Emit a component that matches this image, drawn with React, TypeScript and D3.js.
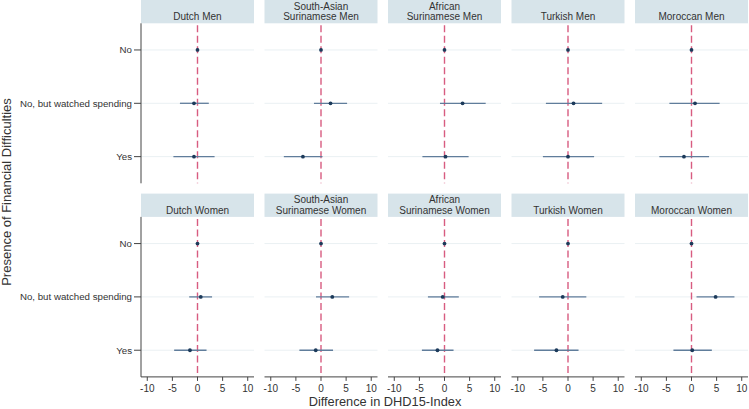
import React from "react";
import * as d3 from "d3";

const categories = ["No", "No, but watched spending", "Yes"];
const xTicks = [-10, -5, 0, 5, 10];

const menTitles = ["Dutch Men", "South-Asian\nSurinamese Men", "African\nSurinamese Men", "Turkish Men", "Moroccan Men"];
const womenTitles = ["Dutch Women", "South-Asian\nSurinamese Women", "African\nSurinamese Women", "Turkish Women", "Moroccan Women"];

const menEst = [[0, -0.7, -0.7], [0, 1.9, -3.6], [0, 3.6, 0.2], [0, 1.1, 0], [0, 0.7, -1.5]];
const menLo = [[null, -3.5, -4.8], [null, -1.4, -7.4], [null, -0.9, -4.4], [null, -4.4, -5.0], [null, -4.4, -6.4]];
const menHi = [[null, 2.25, 3.4], [null, 5.2, 0.3], [null, 8.2, 4.8], [null, 6.8, 5.2], [null, 5.6, 3.5]];

const womenEst = [[0, 0.65, -1.5], [0, 2.25, -1.05], [0, -0.35, -1.4], [0, -1.05, -2.3], [0, 4.8, 0.15]];
const womenLo = [[null, -1.65, -4.65], [null, -1.0, -4.3], [null, -3.3, -4.5], [null, -5.75, -6.75], [null, 1.0, -3.6]];
const womenHi = [[null, 2.9, 1.8], [null, 5.6, 2.4], [null, 2.85, 1.8], [null, 3.65, 2.1], [null, 8.55, 4.05]];

const W = 749;
const H = 409;
const FONT = "'Liberation Sans', Arial, Helvetica, sans-serif";
const panelLeft0 = 141;
const panelW = 113;
const panelStep = 123.5;
const stripH = 23.3;
const plotH = 160;
const rowTops = [0, 193.6];

type Row = { titles: string[]; est: number[][]; lo: (number | null)[][]; hi: (number | null)[][] };

const rows: Row[] = [
  { titles: menTitles, est: menEst, lo: menLo, hi: menHi },
  { titles: womenTitles, est: womenEst, lo: womenLo, hi: womenHi },
];

export default function App() {
  return (
    <div style={{ position: "fixed", left: 0, top: 0 }}>
      <svg width={W} height={H} style={{ display: "block", background: "#fff" }} fontFamily={FONT}>
        {rows.map((row, ri) => {
          const top = rowTops[ri];
          const plotTop = top + stripH;
          const y = d3.scalePoint<string>().domain(categories).range([plotTop, plotTop + plotH]).padding(0.5);
          const isBottom = ri === rows.length - 1;
          return (
            <g key={ri}>
              {row.titles.map((title, pi) => {
                const left = panelLeft0 + pi * panelStep;
                const x = d3.scaleLinear().domain([-11.25, 11.25]).range([left, left + panelW]);
                const lines = title.split("\n");
                return (
                  <g key={pi}>
                    <rect x={left} y={top} width={panelW} height={stripH} fill="#d7e4ea" />
                    {lines.map((ln, li) => (
                      <text
                        key={li}
                        x={left + panelW / 2}
                        y={top + 20 - (lines.length - 1 - li) * 10.5}
                        textAnchor="middle"
                        fontSize={10}
                        fill="#333"
                      >
                        {ln}
                      </text>
                    ))}
                    {categories.map((c) => (
                      <line key={c} x1={left} x2={left + panelW} y1={y(c)} y2={y(c)} stroke="#eaf0f3" strokeWidth={1} />
                    ))}
                    <line
                      x1={x(0)}
                      x2={x(0)}
                      y1={plotTop + 2}
                      y2={plotTop + plotH}
                      stroke="#d85c80"
                      strokeWidth={1.4}
                      strokeDasharray="7,3.5"
                    />
                    {categories.map((c, ci) => {
                      const lo = row.lo[pi][ci];
                      const hi = row.hi[pi][ci];
                      return lo !== null && hi !== null ? (
                        <line key={"ci" + c} x1={x(lo)} x2={x(hi)} y1={y(c)} y2={y(c)} stroke="#607d9b" strokeWidth={1.3} />
                      ) : null;
                    })}
                    {categories.map((c, ci) => (
                      <circle key={"pt" + c} cx={x(row.est[pi][ci])} cy={y(c)} r={1.9} fill="#1c3a5a" />
                    ))}
                    {isBottom && (
                      <g>
                        <line x1={left} x2={left + panelW} y1={plotTop + plotH} y2={plotTop + plotH} stroke="#444" strokeWidth={1} />
                        {xTicks.map((t) => (
                          <g key={t}>
                            <line x1={x(t)} x2={x(t)} y1={plotTop + plotH} y2={plotTop + plotH + 4} stroke="#444" strokeWidth={1} />
                            <text x={x(t)} y={plotTop + plotH + 15} textAnchor="middle" fontSize={10} fill="#333">
                              {t}
                            </text>
                          </g>
                        ))}
                      </g>
                    )}
                  </g>
                );
              })}
              <line x1={panelLeft0} x2={panelLeft0} y1={plotTop} y2={plotTop + plotH} stroke="#444" strokeWidth={1} />
              {categories.map((c) => (
                <g key={c}>
                  <line x1={panelLeft0 - 7} x2={panelLeft0} y1={y(c)} y2={y(c)} stroke="#444" strokeWidth={1} />
                  <text x={panelLeft0 - 9} y={(y(c) as number) + 3.5} textAnchor="end" fontSize={9.7} fill="#333">
                    {c}
                  </text>
                </g>
              ))}
            </g>
          );
        })}
        <text x={11} y={192} transform="rotate(-90 11 192)" textAnchor="middle" fontSize={13} fill="#333">
          Presence of Financial Difficulties
        </text>
        <text x={385} y={405.5} textAnchor="middle" fontSize={12.8} fill="#333">
          Difference in DHD15-Index
        </text>
      </svg>
    </div>
  );
}
